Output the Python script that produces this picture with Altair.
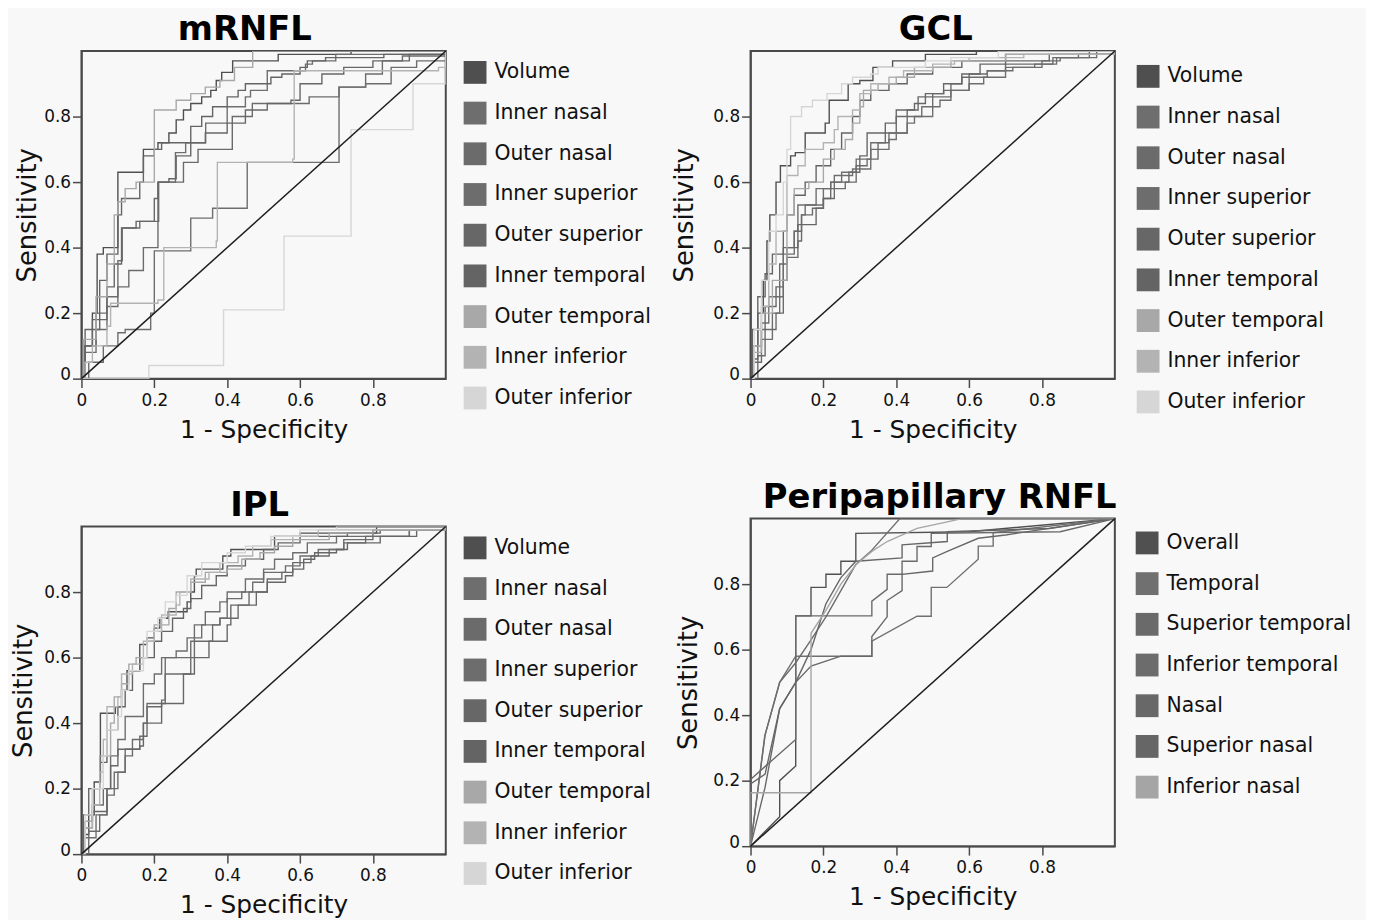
import altair as alt
import pandas as pd

FONT = "DejaVu Sans"
BG = "#f8f8f8"

# ---------------- legend names and colours ----------------
MAC_NAMES = ["Volume", "Inner nasal", "Outer nasal", "Inner superior", "Outer superior",
             "Inner temporal", "Outer temporal", "Inner inferior", "Outer  inferior"]
MAC_COLORS = ["#4f4f4f", "#6e6e6e", "#6b6b6b", "#6d6d6d", "#676767",
              "#646464", "#a8a8a8", "#b3b3b3", "#d6d6d6"]
PERI_NAMES = ["Overall", "Temporal", "Superior temporal", "Inferior temporal",
              "Nasal", "Superior nasal", "Inferior nasal"]
PERI_COLORS = ["#505050", "#707070", "#6a6a6a", "#6c6c6c", "#686868", "#666666", "#a5a5a5"]

X_TICKS = [0, 0.2, 0.4, 0.6, 0.8]
Y_TICKS = [0, 0.2, 0.4, 0.6, 0.8]
CHANCE_X = [0, 1]
CHANCE_Y = [0, 1]

# ---------------- mRNFL curves (step corners: x, sensitivity) ----------------
MRNFL_VOLUME = [(0, 0), (0.01, 0.1), (0.03, 0.2), (0.043, 0.38), (0.06, 0.4), (0.1, 0.63), (0.17, 0.7),
                (0.21, 0.72), (0.24, 0.75), (0.26, 0.79), (0.28, 0.82), (0.3, 0.84), (0.33, 0.86),
                (0.355, 0.88), (0.37, 0.91), (0.385, 0.935), (0.415, 0.97), (0.54, 0.99), (0.74, 1.0), (1, 1)]
MRNFL_INNER_NASAL = [(0, 0), (0.01, 0.08), (0.04, 0.2), (0.07, 0.25), (0.1, 0.36), (0.112, 0.46), (0.16, 0.48),
                     (0.212, 0.6), (0.258, 0.69), (0.286, 0.72), (0.341, 0.78), (0.4, 0.83), (0.45, 0.86),
                     (0.464, 0.88), (0.51, 0.94), (0.615, 0.96), (0.634, 0.97), (0.698, 0.99), (1, 1)]
MRNFL_OUTER_NASAL = [(0, 0), (0.01, 0.1), (0.04, 0.15), (0.07, 0.22), (0.1, 0.28), (0.13, 0.33), (0.17, 0.4),
                     (0.21, 0.49), (0.21, 0.6), (0.28, 0.66), (0.32, 0.7), (0.414, 0.8), (0.469, 0.84),
                     (0.625, 0.86), (0.707, 0.89), (0.78, 0.93), (0.826, 0.97), (0.881, 0.985), (1, 1)]
MRNFL_INNER_SUPERIOR = [(0, 0), (0.02, 0.05), (0.06, 0.1), (0.1, 0.14), (0.12, 0.15), (0.19, 0.2), (0.2, 0.39),
                        (0.3, 0.4), (0.3, 0.49), (0.36, 0.52), (0.455, 0.66), (0.707, 0.89), (0.78, 0.9),
                        (0.85, 0.95), (0.92, 0.97), (1, 1)]
MRNFL_OUTER_SUPERIOR = [(0, 0), (0.005, 0.1), (0.03, 0.18), (0.07, 0.28), (0.09, 0.35), (0.11, 0.46),
                        (0.15, 0.48), (0.2, 0.55), (0.21, 0.6), (0.24, 0.61), (0.26, 0.68), (0.3, 0.72),
                        (0.34, 0.75), (0.4, 0.78), (0.45, 0.82), (0.51, 0.84), (0.575, 0.85), (0.6, 0.9),
                        (0.66, 0.93), (0.72, 0.95), (0.8, 0.97), (0.9, 0.99), (1, 1)]
MRNFL_INNER_TEMPORAL = [(0, 0), (0.01, 0.15), (0.05, 0.3), (0.07, 0.38), (0.1, 0.5), (0.11, 0.55), (0.16, 0.6),
                        (0.17, 0.68), (0.2, 0.7), (0.22, 0.72), (0.3, 0.77), (0.33, 0.8), (0.36, 0.83),
                        (0.4, 0.86), (0.43, 0.88), (0.45, 0.9), (0.52, 0.92), (0.55, 0.93), (0.6, 0.95),
                        (0.62, 0.97), (0.67, 0.98), (0.83, 0.99), (1, 1)]
MRNFL_OUTER_TEMPORAL = [(0, 0), (0.005, 0.12), (0.04, 0.25), (0.07, 0.35), (0.09, 0.5), (0.1, 0.54),
                        (0.12, 0.58), (0.15, 0.6), (0.2, 0.82), (0.26, 0.85), (0.3, 0.87), (0.34, 0.89),
                        (0.38, 0.91), (0.42, 0.95), (0.47, 1.0), (1, 1)]
MRNFL_INNER_INFERIOR = [(0, 0), (0.01, 0.05), (0.03, 0.1), (0.07, 0.16), (0.08, 0.23), (0.21, 0.24),
                        (0.226, 0.4), (0.37, 0.42), (0.373, 0.66), (0.58, 0.67), (0.584, 0.94),
                        (0.98, 0.95), (1, 1)]
MRNFL_OUTER_INFERIOR = [(0, 0), (0.185, 0), (0.185, 0.04), (0.39, 0.21), (0.556, 0.435), (0.74, 0.76),
                        (0.91, 0.9), (1, 0.9), (1, 1)]

# ---------------- GCL curves ----------------
GCL_VOLUME = [(0, 0), (0.005, 0.1), (0.02, 0.2), (0.035, 0.3), (0.045, 0.42), (0.053, 0.5), (0.07, 0.6),
              (0.082, 0.65), (0.11, 0.68), (0.123, 0.69), (0.15, 0.75), (0.205, 0.78), (0.216, 0.85),
              (0.268, 0.9), (0.3, 0.91), (0.336, 0.95), (0.39, 0.97), (0.48, 0.99), (0.62, 1.0), (1, 1)]
GCL_INNER_NASAL = [(0, 0), (0.01, 0.05), (0.03, 0.12), (0.06, 0.2), (0.08, 0.25), (0.09, 0.4), (0.12, 0.45),
                   (0.14, 0.5), (0.15, 0.53), (0.18, 0.58), (0.22, 0.6), (0.25, 0.63), (0.29, 0.67),
                   (0.33, 0.72), (0.38, 0.73), (0.4, 0.75), (0.43, 0.78), (0.45, 0.8), (0.5, 0.83),
                   (0.52, 0.85), (0.55, 0.88), (0.6, 0.9), (0.64, 0.92), (0.7, 0.95), (0.78, 0.96),
                   (0.84, 0.98), (0.9, 0.99), (1, 1)]
GCL_OUTER_NASAL = [(0, 0), (0.02, 0.07), (0.04, 0.15), (0.07, 0.2), (0.09, 0.3), (0.1, 0.37), (0.13, 0.42),
                   (0.14, 0.5), (0.17, 0.52), (0.2, 0.55), (0.23, 0.58), (0.26, 0.6), (0.29, 0.65),
                   (0.32, 0.67), (0.35, 0.72), (0.37, 0.75), (0.4, 0.8), (0.43, 0.82), (0.46, 0.86),
                   (0.5, 0.87), (0.53, 0.88), (0.55, 0.9), (0.58, 0.92), (0.6, 0.93), (0.65, 0.94),
                   (0.7, 0.96), (0.83, 0.98), (0.93, 1.0), (1, 1)]
GCL_INNER_SUPERIOR = [(0, 0), (0.01, 0.1), (0.03, 0.17), (0.05, 0.25), (0.08, 0.28), (0.09, 0.38),
                      (0.12, 0.45), (0.13, 0.53), (0.2, 0.58), (0.23, 0.62), (0.28, 0.64), (0.33, 0.7),
                      (0.38, 0.75), (0.43, 0.8), (0.47, 0.83), (0.5, 0.86), (0.55, 0.88), (0.6, 0.92),
                      (0.65, 0.94), (0.72, 0.95), (0.8, 0.97), (0.85, 0.98), (0.95, 1.0), (1, 1)]
GCL_OUTER_SUPERIOR = [(0, 0), (0.01, 0.06), (0.02, 0.15), (0.04, 0.22), (0.07, 0.28), (0.08, 0.35),
                      (0.1, 0.4), (0.13, 0.47), (0.18, 0.52), (0.2, 0.55), (0.22, 0.6), (0.27, 0.63),
                      (0.3, 0.68), (0.32, 0.75), (0.37, 0.78), (0.4, 0.82), (0.45, 0.84), (0.48, 0.87),
                      (0.53, 0.9), (0.58, 0.93), (0.63, 0.96), (0.7, 0.97), (0.82, 0.99), (1, 1)]
GCL_INNER_TEMPORAL = [(0, 0), (0.005, 0.15), (0.02, 0.25), (0.04, 0.32), (0.06, 0.38), (0.09, 0.45),
                      (0.1, 0.5), (0.12, 0.56), (0.15, 0.6), (0.18, 0.65), (0.22, 0.7), (0.25, 0.75),
                      (0.28, 0.8), (0.3, 0.85), (0.33, 0.88), (0.38, 0.9), (0.43, 0.93), (0.5, 0.95),
                      (0.58, 0.97), (0.7, 0.99), (1, 1)]
GCL_OUTER_TEMPORAL = [(0, 0), (0.01, 0.08), (0.03, 0.2), (0.06, 0.3), (0.1, 0.4), (0.1, 0.5), (0.12, 0.58),
                      (0.16, 0.6), (0.2, 0.67), (0.23, 0.7), (0.26, 0.73), (0.28, 0.78), (0.3, 0.83),
                      (0.31, 0.88), (0.35, 0.9), (0.4, 0.92), (0.45, 0.95), (0.55, 0.97), (0.7, 0.99), (1, 1)]
GCL_INNER_INFERIOR = [(0, 0), (0.01, 0.1), (0.03, 0.22), (0.05, 0.35), (0.07, 0.45), (0.1, 0.56), (0.1, 0.62),
                      (0.13, 0.65), (0.15, 0.7), (0.2, 0.72), (0.23, 0.76), (0.24, 0.8), (0.28, 0.82),
                      (0.3, 0.87), (0.33, 0.9), (0.38, 0.92), (0.42, 0.94), (0.5, 0.96), (0.56, 0.97),
                      (0.6, 0.98), (0.75, 0.99), (1, 1)]
GCL_OUTER_INFERIOR = [(0, 0), (0.01, 0.15), (0.03, 0.3), (0.05, 0.45), (0.07, 0.5), (0.09, 0.6), (0.1, 0.7),
                      (0.11, 0.8), (0.14, 0.83), (0.17, 0.85), (0.21, 0.87), (0.25, 0.9), (0.28, 0.92),
                      (0.33, 0.93), (0.35, 0.95), (0.48, 0.97), (0.55, 0.98), (0.68, 1.0), (1, 1)]

# ---------------- IPL curves ----------------
IPL_VOLUME = [(0, 0), (0.01, 0.06), (0.02, 0.12), (0.035, 0.22), (0.052, 0.34), (0.052, 0.43), (0.093, 0.45),
              (0.11, 0.5), (0.125, 0.56), (0.16, 0.64), (0.18, 0.66), (0.2, 0.69), (0.215, 0.72),
              (0.238, 0.74), (0.29, 0.77), (0.3, 0.8), (0.31, 0.85), (0.315, 0.87), (0.388, 0.91),
              (0.41, 0.93), (0.53, 0.97), (0.6, 0.98), (0.81, 1.0), (1, 1)]
IPL_INNER_NASAL = [(0, 0), (0.01, 0.1), (0.03, 0.15), (0.06, 0.2), (0.08, 0.3), (0.1, 0.35), (0.12, 0.42),
                   (0.17, 0.45), (0.17, 0.52), (0.2, 0.55), (0.22, 0.6), (0.26, 0.62), (0.29, 0.66),
                   (0.31, 0.7), (0.34, 0.74), (0.38, 0.77), (0.4, 0.8), (0.45, 0.84), (0.5, 0.87),
                   (0.53, 0.9), (0.58, 0.92), (0.62, 0.95), (0.7, 0.97), (0.8, 0.99), (1, 1)]
IPL_OUTER_NASAL = [(0, 0), (0.02, 0.07), (0.05, 0.12), (0.07, 0.2), (0.1, 0.25), (0.12, 0.32), (0.16, 0.36),
                   (0.18, 0.45), (0.22, 0.47), (0.23, 0.55), (0.3, 0.58), (0.3, 0.65), (0.36, 0.7),
                   (0.38, 0.72), (0.43, 0.76), (0.46, 0.8), (0.51, 0.84), (0.55, 0.86), (0.58, 0.89),
                   (0.63, 0.91), (0.68, 0.93), (0.72, 0.95), (0.78, 0.97), (0.9, 0.99), (1, 1)]
IPL_INNER_SUPERIOR = [(0, 0), (0.01, 0.05), (0.04, 0.12), (0.07, 0.18), (0.09, 0.25), (0.12, 0.3),
                      (0.14, 0.35), (0.17, 0.4), (0.18, 0.46), (0.23, 0.5), (0.23, 0.6), (0.31, 0.61),
                      (0.31, 0.66), (0.33, 0.7), (0.38, 0.72), (0.4, 0.78), (0.44, 0.8), (0.47, 0.83),
                      (0.5, 0.86), (0.56, 0.88), (0.6, 0.91), (0.65, 0.93), (0.72, 0.96), (0.8, 0.97),
                      (0.9, 0.99), (1, 1)]
IPL_OUTER_SUPERIOR = [(0, 0), (0.01, 0.08), (0.03, 0.13), (0.07, 0.2), (0.08, 0.27), (0.1, 0.32),
                      (0.16, 0.33), (0.17, 0.4), (0.22, 0.46), (0.28, 0.55), (0.31, 0.6), (0.35, 0.65),
                      (0.4, 0.7), (0.41, 0.76), (0.48, 0.8), (0.51, 0.83), (0.56, 0.85), (0.58, 0.87),
                      (0.61, 0.9), (0.64, 0.92), (0.7, 0.93), (0.73, 0.95), (0.82, 0.97), (0.92, 0.99), (1, 1)]
IPL_INNER_TEMPORAL = [(0, 0), (0.005, 0.12), (0.02, 0.2), (0.05, 0.28), (0.07, 0.38), (0.1, 0.45),
                      (0.12, 0.5), (0.14, 0.56), (0.16, 0.6), (0.2, 0.65), (0.22, 0.68), (0.25, 0.72),
                      (0.28, 0.75), (0.3, 0.78), (0.33, 0.82), (0.37, 0.85), (0.4, 0.88), (0.45, 0.9),
                      (0.5, 0.93), (0.54, 0.95), (0.6, 0.97), (0.73, 0.98), (0.82, 0.99), (1, 1)]
IPL_OUTER_TEMPORAL = [(0, 0), (0.01, 0.1), (0.03, 0.2), (0.05, 0.3), (0.08, 0.4), (0.09, 0.48), (0.11, 0.52),
                      (0.13, 0.58), (0.15, 0.6), (0.18, 0.65), (0.2, 0.7), (0.24, 0.75), (0.26, 0.8),
                      (0.3, 0.83), (0.34, 0.86), (0.4, 0.87), (0.44, 0.9), (0.49, 0.92), (0.53, 0.94),
                      (0.58, 0.96), (0.68, 0.98), (0.8, 0.99), (1, 1)]
IPL_INNER_INFERIOR = [(0, 0), (0.01, 0.08), (0.03, 0.15), (0.05, 0.25), (0.06, 0.35), (0.07, 0.45),
                      (0.1, 0.48), (0.11, 0.55), (0.14, 0.58), (0.17, 0.65), (0.2, 0.68), (0.22, 0.73),
                      (0.26, 0.76), (0.27, 0.8), (0.3, 0.84), (0.35, 0.86), (0.38, 0.89), (0.43, 0.91),
                      (0.47, 0.94), (0.52, 0.96), (0.58, 0.97), (0.65, 0.99), (1, 1)]
IPL_OUTER_INFERIOR = [(0, 0), (0.01, 0.12), (0.03, 0.2), (0.06, 0.3), (0.07, 0.38), (0.1, 0.42), (0.11, 0.5),
                      (0.13, 0.56), (0.17, 0.6), (0.18, 0.68), (0.21, 0.72), (0.23, 0.77), (0.26, 0.79),
                      (0.29, 0.85), (0.33, 0.89), (0.4, 0.92), (0.45, 0.94), (0.52, 0.97), (0.6, 0.99),
                      (0.7, 1.0), (1, 1)]

# ---------------- Peripapillary RNFL curves (straight segments) ----------------
PERI_OVERALL = [(0, 0), (0.08, 0.09), (0.08, 0.2), (0.124, 0.245), (0.124, 0.703), (0.166, 0.703),
                (0.166, 0.79), (0.207, 0.79), (0.207, 0.83), (0.248, 0.83), (0.248, 0.87), (0.289, 0.87),
                (0.289, 0.955), (0.6, 0.96), (1, 1)]
PERI_TEMPORAL = [(0, 0), (0.039, 0.336), (0.08, 0.5), (0.124, 0.58), (0.333, 0.58), (0.333, 0.626),
                 (0.457, 0.702), (0.496, 0.702), (0.496, 0.79), (0.539, 0.79), (0.625, 0.876),
                 (0.625, 0.916), (0.666, 0.916), (0.666, 0.957), (1, 1)]
PERI_SUP_TEMPORAL = [(0, 0), (0, 0.204), (0.124, 0.326), (0.124, 0.703), (0.333, 0.703), (0.333, 0.748),
                     (0.375, 0.784), (0.375, 0.83), (0.416, 0.83), (0.416, 0.87), (0.457, 0.87),
                     (0.457, 0.915), (0.496, 0.915), (0.496, 0.955), (0.85, 0.96), (1, 1)]
PERI_INF_TEMPORAL = [(0, 0), (0.04, 0.34), (0.08, 0.5), (0.124, 0.56), (0.166, 0.63), (0.207, 0.7),
                     (0.248, 0.78), (0.289, 0.86), (0.33, 0.9), (0.41, 1.0), (1, 1)]
PERI_NASAL = [(0, 0), (0.04, 0.18), (0.08, 0.42), (0.124, 0.5), (0.166, 0.55), (0.248, 0.58), (0.333, 0.58),
              (0.333, 0.64), (0.375, 0.7), (0.375, 0.75), (0.416, 0.78), (0.416, 0.83), (0.5, 0.84),
              (0.5, 0.88), (0.54, 0.9), (0.625, 0.94), (0.7, 0.95), (1, 1)]
PERI_SUP_NASAL = [(0, 0), (0, 0.19), (0.04, 0.22), (0.08, 0.42), (0.124, 0.5), (0.166, 0.6), (0.207, 0.74),
                  (0.248, 0.82), (0.289, 0.87), (0.416, 0.88), (0.416, 0.92), (0.54, 0.93), (0.54, 0.96),
                  (0.82, 0.97), (1, 1)]
PERI_INF_NASAL = [(0, 0), (0, 0.163), (0.166, 0.163), (0.166, 0.65), (0.207, 0.72), (0.248, 0.8),
                  (0.29, 0.86), (0.333, 0.9), (0.375, 0.93), (0.457, 0.97), (0.54, 0.99), (0.58, 1.0), (1, 1)]

MRNFL_CURVES = [MRNFL_VOLUME, MRNFL_INNER_NASAL, MRNFL_OUTER_NASAL, MRNFL_INNER_SUPERIOR,
                MRNFL_OUTER_SUPERIOR, MRNFL_INNER_TEMPORAL, MRNFL_OUTER_TEMPORAL,
                MRNFL_INNER_INFERIOR, MRNFL_OUTER_INFERIOR]
GCL_CURVES = [GCL_VOLUME, GCL_INNER_NASAL, GCL_OUTER_NASAL, GCL_INNER_SUPERIOR, GCL_OUTER_SUPERIOR,
              GCL_INNER_TEMPORAL, GCL_OUTER_TEMPORAL, GCL_INNER_INFERIOR, GCL_OUTER_INFERIOR]
IPL_CURVES = [IPL_VOLUME, IPL_INNER_NASAL, IPL_OUTER_NASAL, IPL_INNER_SUPERIOR, IPL_OUTER_SUPERIOR,
              IPL_INNER_TEMPORAL, IPL_OUTER_TEMPORAL, IPL_INNER_INFERIOR, IPL_OUTER_INFERIOR]
PERI_CURVES = [PERI_OVERALL, PERI_TEMPORAL, PERI_SUP_TEMPORAL, PERI_INF_TEMPORAL, PERI_NASAL,
               PERI_SUP_NASAL, PERI_INF_NASAL]


def panel(title, names, colors, curves, interp, title_dx=0, ytitle_pad=3, leg_offset=8, leg_pad=10):
    rows = []
    for name, pts in zip(names, curves):
        for k, (x, y) in enumerate(pts):
            rows.append({"series": name, "x": x, "y": y, "k": k})
    df = pd.DataFrame(rows)
    diag = pd.DataFrame({"x": CHANCE_X, "y": CHANCE_Y})

    xs = alt.Scale(domain=[0, 1], nice=False, zero=False)
    ys = alt.Scale(domain=[0, 1], nice=False, zero=False)
    xaxis = alt.Axis(values=X_TICKS, format="~g", title="1 - Specificity", grid=False,
                     labelFlush=False, labelPadding=5, titlePadding=9, titleFontSize=25)
    yaxis = alt.Axis(values=Y_TICKS, format="~g", title="Sensitivity", grid=False,
                     labelFlush=True, labelFlushOffset=5, labelPadding=2,
                     titlePadding=ytitle_pad, titleFontSize=26)

    # square swatch drawn as a small square with a thick stroke -> solid block
    legend = alt.Legend(
        title=None, orient="right", symbolType="square", symbolSize=121, symbolStrokeWidth=12,
        symbolOpacity=1, labelFont=FONT, labelFontSize=20.5, labelColor="#111",
        labelOffset=8, rowPadding=-35, offset=leg_offset, padding=leg_pad, labelLimit=400,
    )

    lines = alt.Chart(df).mark_line(interpolate=interp, strokeWidth=1.4, clip=True).encode(
        x=alt.X("x:Q", scale=xs, axis=xaxis),
        y=alt.Y("y:Q", scale=ys, axis=yaxis),
        color=alt.Color("series:N", sort=names,
                        scale=alt.Scale(domain=names, range=colors), legend=legend),
        order=alt.Order("k:Q"),
    )
    chance = alt.Chart(diag).mark_line(color="#1e1e1e", strokeWidth=1.5).encode(
        x=alt.X("x:Q", scale=xs, axis=xaxis),
        y=alt.Y("y:Q", scale=ys, axis=yaxis),
    )
    return alt.layer(lines, chance).properties(
        width=367, height=330,
        title=alt.TitleParams(text=title, font=FONT, fontSize=34, fontWeight="bold", color="#000",
                              anchor="middle", offset=1, dx=title_dx),
    )


mrnfl = panel("mRNFL", MAC_NAMES, MAC_COLORS, MRNFL_CURVES, "step-after", title_dx=-19)
gcl = panel("GCL", MAC_NAMES, MAC_COLORS, GCL_CURVES, "step-after", title_dx=3, leg_pad=14,
            ytitle_pad=15)
ipl = panel("IPL", MAC_NAMES, MAC_COLORS, IPL_CURVES, "step-after", title_dx=-4, ytitle_pad=7)
peri = panel("Peripapillary RNFL", PERI_NAMES, PERI_COLORS, PERI_CURVES, "linear", leg_pad=13,
             ytitle_pad=11, title_dx=7)

left = alt.vconcat(mrnfl, ipl, spacing=45).resolve_scale(color="independent")
right = alt.vconcat(gcl, peri, spacing=34).resolve_scale(color="independent")

chart = alt.hconcat(left, right, spacing=8).resolve_scale(color="independent").properties(
    padding={"left": 1, "top": 1, "right": 0, "bottom": 0}
).configure(
    background=BG,
).configure_view(
    stroke="#4a4a4a", strokeWidth=2, fill=BG,
).configure_axis(
    domainColor="#4a4a4a", domainWidth=1.5, tickColor="#4a4a4a", tickSize=9, tickWidth=1.5,
    labelFont=FONT, labelFontSize=17, labelColor="#111",
    titleFont=FONT, titleFontWeight="normal", titleColor="#111",
).configure_concat(spacing=8)

chart.save("out.html", embed_options={"renderer": "svg", "actions": False})
